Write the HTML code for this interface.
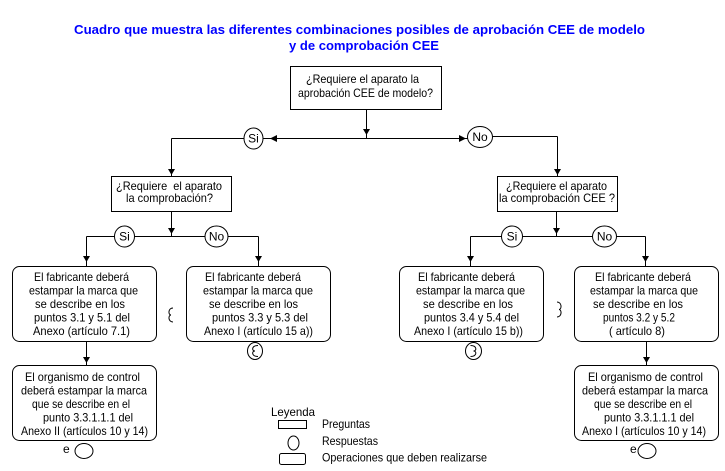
<!DOCTYPE html>
<html><head><meta charset="utf-8"><style>
html,body{margin:0;padding:0;background:#fff;}
svg{display:block;}
text{font-family:"Liberation Sans",Arial,sans-serif;font-size:12px;fill:#000;}
.t{font-size:13px;font-weight:bold;fill:#0000FF;}
</style></head><body>
<svg width="725" height="471" viewBox="0 0 725 471" xmlns="http://www.w3.org/2000/svg">
<rect x="0" y="0" width="725" height="471" fill="#fff"/>
<text class="t" x="74" y="34" textLength="571" lengthAdjust="spacingAndGlyphs">Cuadro que muestra las diferentes combinaciones posibles de aprobación CEE de modelo</text>
<text class="t" x="289" y="50" textLength="150" lengthAdjust="spacingAndGlyphs">y de comprobación CEE</text>

<g fill="none" stroke="#000" stroke-width="1" shape-rendering="crispEdges">
<rect x="290.5" y="66.5" width="151" height="43"/>
<line x1="366.5" y1="110" x2="366.5" y2="139"/>
<line x1="255" y1="138.5" x2="470" y2="138.5"/>
<line x1="171.5" y1="138.5" x2="250" y2="138.5"/>
<line x1="171.5" y1="138.5" x2="171.5" y2="177"/>
<line x1="485" y1="136.5" x2="557.5" y2="136.5"/>
<line x1="557.5" y1="136.5" x2="557.5" y2="177"/>
<rect x="111.5" y="176.5" width="120" height="35"/>
<rect x="497.5" y="176.5" width="120" height="35"/>
<line x1="171.5" y1="211.5" x2="171.5" y2="236.5"/>
<line x1="86.5" y1="236.5" x2="258.5" y2="236.5"/>
<line x1="86.5" y1="236.5" x2="86.5" y2="266"/>
<line x1="258.5" y1="236.5" x2="258.5" y2="266"/>
<line x1="556.5" y1="211.5" x2="556.5" y2="236.5"/>
<line x1="470.5" y1="236.5" x2="645.5" y2="236.5"/>
<line x1="470.5" y1="236.5" x2="470.5" y2="266"/>
<line x1="645.5" y1="236.5" x2="645.5" y2="266"/>
<line x1="86.5" y1="342" x2="86.5" y2="365"/>
<line x1="646.5" y1="342" x2="646.5" y2="365"/>
</g>
<g fill="none" stroke="#000" stroke-width="1">
<rect x="12.5" y="266.5" width="144" height="75" rx="7"/>
<rect x="186.5" y="266.5" width="144" height="75" rx="7"/>
<rect x="399.5" y="266.5" width="144" height="75" rx="7"/>
<rect x="574.5" y="266.5" width="144" height="75" rx="7"/>
<rect x="12.5" y="365.5" width="144" height="75" rx="7"/>
<rect x="574.5" y="365.5" width="144" height="75" rx="7"/>
</g>
<g fill="#000">
<polygon points="363,129 370,129 366.5,135"/>
<polygon points="270,138.5 277,135 277,142"/>
<polygon points="466,138.5 459,135 459,142"/>
<polygon points="168,169 175,169 171.5,175"/>
<polygon points="554,169 561,169 557.5,175"/>
<polygon points="168,228 175,228 171.5,234"/>
<polygon points="553,228 560,228 556.5,234"/>
<polygon points="83,256 90,256 86.5,262"/>
<polygon points="255,256 262,256 258.5,262"/>
<polygon points="467,256 474,256 470.5,262"/>
<polygon points="642,256 649,256 645.5,262"/>
<polygon points="83,357 90,357 86.5,363"/>
<polygon points="643,357 650,357 646.5,363"/>
</g>
<g fill="#fff" stroke="#000" stroke-width="1">
<ellipse cx="253.5" cy="138.5" rx="9.5" ry="10.5"/>
<ellipse cx="480" cy="137" rx="12.5" ry="10.5"/>
<ellipse cx="124.5" cy="236.5" rx="10" ry="10.5"/>
<ellipse cx="216.5" cy="236.5" rx="11.5" ry="10.5"/>
<ellipse cx="512" cy="236.5" rx="10.5" ry="10.5"/>
<ellipse cx="604.5" cy="236.5" rx="12" ry="10.5"/>
<ellipse cx="255" cy="351" rx="7.5" ry="8.5"/>
<ellipse cx="473.5" cy="351" rx="8" ry="8.5"/>
<ellipse cx="84" cy="451" rx="9" ry="7.5"/>
<ellipse cx="647" cy="451" rx="9" ry="7.5"/>
</g>
<g fill="none" stroke="#000" stroke-width="1">
<path d="M173,308 C168,308 168,315 171,315 C168,315 168,322 173,322"/>
<path d="M557,302 C562,302 562,309.5 559,309.5 C562,309.5 562,317 557,317"/>
<path d="M258,345.5 C251.5,345.5 251.5,351 255,351 C251.5,351 251.5,356.5 258,356.5"/>
<path d="M470.5,345.5 C477,345.5 477,351 473.5,351 C477,351 477,356.5 470.5,356.5"/>
</g>

<text x="306" y="83" textLength="113" lengthAdjust="spacingAndGlyphs">¿Requiere el aparato la</text>
<text x="298" y="97" textLength="135" lengthAdjust="spacingAndGlyphs">aprobación CEE de modelo?</text>

<text x="116" y="190" textLength="106" lengthAdjust="spacingAndGlyphs">¿Requiere&#160; el aparato</text>
<text x="126" y="202" textLength="87" lengthAdjust="spacingAndGlyphs">la comprobación?</text>
<text x="506" y="190" textLength="101" lengthAdjust="spacingAndGlyphs">¿Requiere el aparato</text>
<text x="499" y="202" textLength="116" lengthAdjust="spacingAndGlyphs">la comprobación CEE ?</text>

<g text-anchor="middle">
<text x="253.5" y="142.5">Si</text>
<text x="480" y="141">No</text>
<text x="124.5" y="240.5">Si</text>
<text x="216.5" y="240.5">No</text>
<text x="512" y="240.5">Si</text>
<text x="604.5" y="240.5">No</text>
</g>

<text x="34" y="281" textLength="95" lengthAdjust="spacingAndGlyphs">El fabricante deberá</text>
<text x="29" y="294.5" textLength="109" lengthAdjust="spacingAndGlyphs">estampar la marca que</text>
<text x="35" y="308" textLength="90" lengthAdjust="spacingAndGlyphs">se describe en los</text>
<text x="34" y="321.5" textLength="96" lengthAdjust="spacingAndGlyphs">puntos 3.1 y 5.1 del</text>
<text x="33" y="335" textLength="97" lengthAdjust="spacingAndGlyphs">Anexo (artículo 7.1)</text>

<text x="205" y="281" textLength="96" lengthAdjust="spacingAndGlyphs">El fabricante deberá</text>
<text x="203" y="294.5" textLength="110" lengthAdjust="spacingAndGlyphs">estampar la marca que</text>
<text x="209" y="308" textLength="89" lengthAdjust="spacingAndGlyphs">se describe en los</text>
<text x="212" y="321.5" textLength="96" lengthAdjust="spacingAndGlyphs">puntos 3.3 y 5.3 del</text>
<text x="204" y="335" textLength="109" lengthAdjust="spacingAndGlyphs">Anexo I (artículo 15 a))</text>

<text x="418" y="281" textLength="97" lengthAdjust="spacingAndGlyphs">El fabricante deberá</text>
<text x="416" y="294.5" textLength="109" lengthAdjust="spacingAndGlyphs">estampar la marca que</text>
<text x="423" y="308" textLength="90" lengthAdjust="spacingAndGlyphs">se describe en los</text>
<text x="424" y="321.5" textLength="95" lengthAdjust="spacingAndGlyphs">puntos 3.4 y 5.4 del</text>
<text x="414" y="335" textLength="109" lengthAdjust="spacingAndGlyphs">Anexo I (artículo 15 b))</text>

<text x="595" y="281" textLength="96" lengthAdjust="spacingAndGlyphs">El fabricante deberá</text>
<text x="590" y="294.5" textLength="108" lengthAdjust="spacingAndGlyphs">estampar la marca que</text>
<text x="593" y="308" textLength="90" lengthAdjust="spacingAndGlyphs">se describe en los</text>
<text x="603" y="321.5" textLength="72" lengthAdjust="spacingAndGlyphs">puntos 3.2 y 5.2</text>
<text x="609" y="335" textLength="56" lengthAdjust="spacingAndGlyphs">( artículo 8)</text>

<text x="25" y="381" textLength="115" lengthAdjust="spacingAndGlyphs">El organismo de control</text>
<text x="21" y="394.5" textLength="126" lengthAdjust="spacingAndGlyphs">deberá estampar la marca</text>
<text x="32" y="408" textLength="98" lengthAdjust="spacingAndGlyphs">que se describe en el</text>
<text x="43" y="421.5" textLength="90" lengthAdjust="spacingAndGlyphs">punto 3.3.1.1.1 del</text>
<text x="21" y="435" textLength="127" lengthAdjust="spacingAndGlyphs">Anexo II (artículos 10 y 14)</text>

<text x="588" y="381" textLength="115" lengthAdjust="spacingAndGlyphs">El organismo de control</text>
<text x="582" y="394.5" textLength="126" lengthAdjust="spacingAndGlyphs">deberá estampar la marca</text>
<text x="594" y="408" textLength="98" lengthAdjust="spacingAndGlyphs">que se describe en el</text>
<text x="604" y="421.5" textLength="90" lengthAdjust="spacingAndGlyphs">punto 3.3.1.1.1 del</text>
<text x="582" y="435" textLength="124" lengthAdjust="spacingAndGlyphs">Anexo I (artículos 10 y 14)</text>

<text x="63" y="453">e</text>
<text x="630" y="453">e</text>

<text x="271" y="416" textLength="44" lengthAdjust="spacingAndGlyphs">Leyenda</text>
<rect x="278.5" y="420.5" width="28" height="8" fill="none" stroke="#000" shape-rendering="crispEdges"/>
<text x="322" y="428" textLength="48" lengthAdjust="spacingAndGlyphs">Preguntas</text>
<ellipse cx="293.5" cy="443" rx="5.5" ry="7" fill="none" stroke="#000"/>
<text x="322" y="445" textLength="56" lengthAdjust="spacingAndGlyphs">Respuestas</text>
<rect x="279.5" y="453.5" width="26" height="11" rx="2" fill="none" stroke="#000"/>
<text x="322" y="461.5" textLength="165" lengthAdjust="spacingAndGlyphs">Operaciones que deben realizarse</text>
</svg>
</body></html>
